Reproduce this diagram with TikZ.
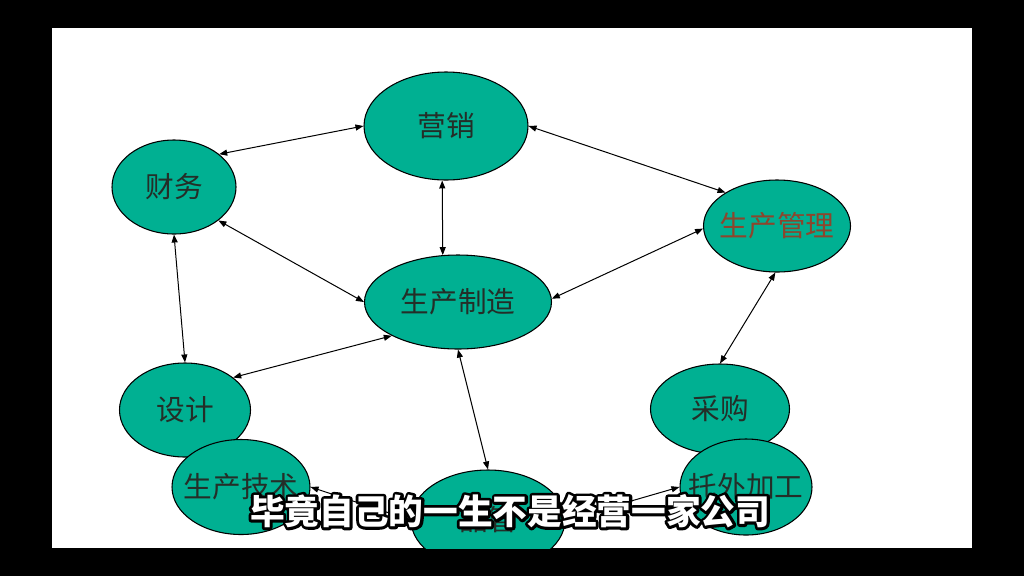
\documentclass[tikz,border=0pt]{standalone}
\usepackage{fontspec}
\usetikzlibrary{shapes.geometric,arrows.meta}
\newfontfamily\cjk{Noto Sans CJK SC}
\definecolor{teal1}{RGB}{0,176,146}
\definecolor{txt}{RGB}{36,46,40}
\definecolor{brown1}{RGB}{140,70,45}
\newcommand\lbl[1]{\makebox[0pt]{#1}}
\newcommand\outlined[1]{\rlap{\special{pdf:literal direct 1 Tr 4.2 w 1 j 0 0 0 RG}#1\special{pdf:literal direct 0 Tr}}#1}
\begin{document}
\begin{tikzpicture}[x=0.75pt,y=-0.75pt,
  bub/.style n args={2}{ellipse, draw=black, line width=0.8pt, fill=teal1,
    minimum width=#1*0.75pt, minimum height=#2*0.75pt, inner sep=0pt,
    font=\cjk\fontsize{21.5pt}{24pt}\selectfont, text=txt},
  link/.style={{Triangle[length=6pt,width=4.5pt]}-{Triangle[length=6pt,width=4.5pt]}, line width=0.75pt, draw=black},
  subt/.style={font=\cjk\bfseries\fontsize{26pt}{30pt}\selectfont, inner sep=0pt, text=white}]
\useasboundingbox (0,0) rectangle (1024,576);
\fill[black] (0,0) rectangle (1024,576);
\fill[white] (52,28) rectangle (972,548);
\begin{scope}
  \clip (52,28) rectangle (972,548);
  \node[bub={164}{108}] (yx) at (446,126) {\lbl{营销}};
  \node[bub={124}{94}] (cw) at (174,187) {\lbl{财务}};
  \node[bub={147}{92}, text=brown1] (gl) at (777,226) {\lbl{生产管理}};
  \node[bub={187}{94}] (zz) at (458,302) {\lbl{生产制造}};
  \node[bub={131}{94}] (sj) at (185,410) {\lbl{设计}};
  \node[bub={139}{90}] (cg) at (720,409) {\lbl{采购}};
  \node[bub={138}{95}] (js) at (241,487) {\lbl{生产技术}};
  \node[bub={132}{96}] (tw) at (746,487) {\lbl{托外加工}};
  \node[bub={154}{100}] (pg) at (488,520) {\lbl{品管}};
  \draw[link] (cw.36) -- (yx.180);
  \draw[link] (yx.266) -- (zz.108);
  \draw[link] (yx.0) -- (gl.147);
  \draw[link] (cw.323) -- (zz.180);
  \draw[link] (gl.182) -- (zz.2);
  \draw[link] (cw.270) -- (sj.90);
  \draw[link] (sj.34) -- (zz.207);
  \draw[link] (zz.270) -- (pg.90);
  \draw[link] (gl.268) -- (cg.90);
  \draw[link] (js.0) -- (pg.180);
  \draw[link] (pg.0) -- (tw.180);
\end{scope}
\node[subt] (sub) at (510,511) {\outlined{毕竟自己的一生不是经营一家公司}};
\end{tikzpicture}
\end{document}
